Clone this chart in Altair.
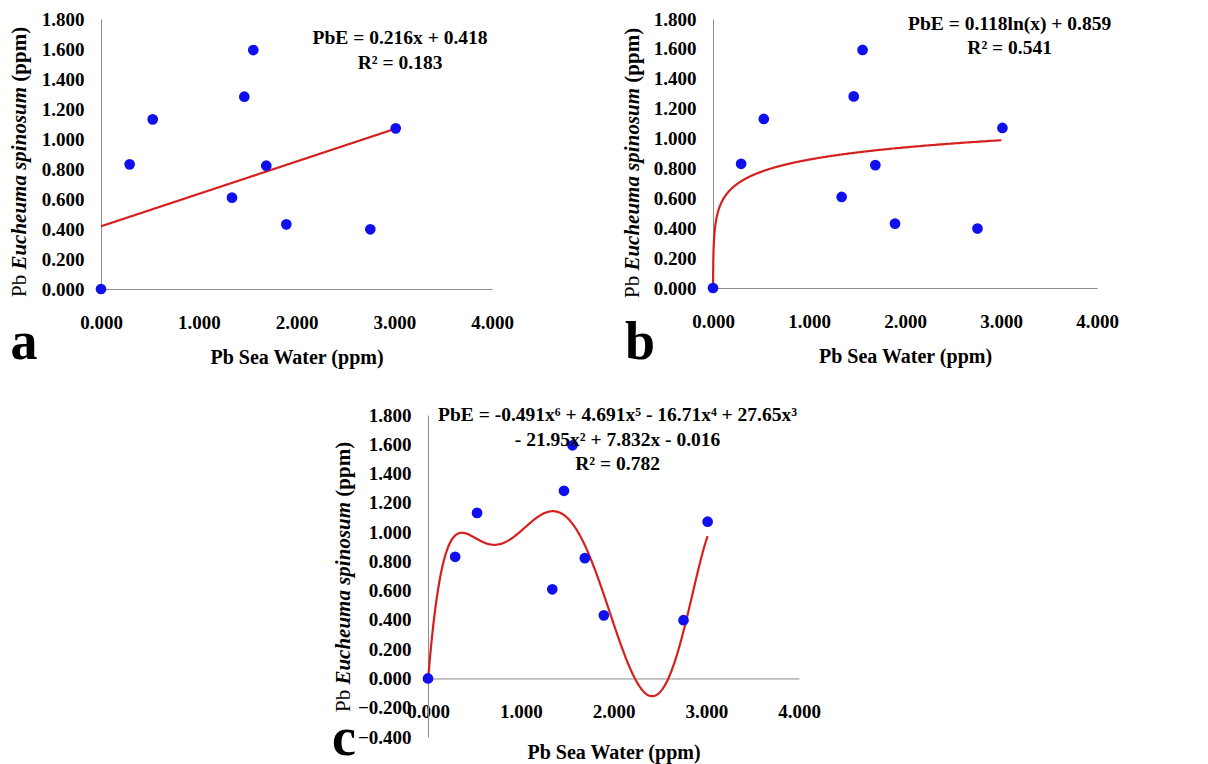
import altair as alt
import pandas as pd

# ---------------- data ----------------
sea_water = [0.000, 0.293, 0.529, 1.340, 1.466, 1.558, 1.691, 1.896, 2.755, 3.015]
eucheuma = [0.000, 0.831, 1.131, 0.609, 1.282, 1.593, 0.822, 0.431, 0.398, 1.071]

# trend-line coefficients as printed on the chart
linear_coef = [0.216, 0.418]                                   # a*x + b
log_coef = [0.118, 0.859]                                      # a*ln(x) + b
poly_coef = [-0.491, 4.691, -16.71, 27.65, -21.95, 7.832, -0.016]  # x^6 ... x^0

eq_a = ["PbE = 0.216x + 0.418", "R² = 0.183"]
eq_b = ["PbE = 0.118ln(x) + 0.859", "R² = 0.541"]
eq_c = ["PbE = -0.491x⁶ + 4.691x⁵ - 16.71x⁴ + 27.65x³",
        "- 21.95x² + 7.832x - 0.016", "R² = 0.782"]

x_ticks = [0, 1, 2, 3, 4]
y_ticks_ab = [0, 0.2, 0.4, 0.6, 0.8, 1.0, 1.2, 1.4, 1.6, 1.8]
y_ticks_c = [-0.4, -0.2, 0, 0.2, 0.4, 0.6, 0.8, 1.0, 1.2, 1.4, 1.6, 1.8]

x_title = "Pb Sea Water (ppm)"
y_title_parts = ["Pb ", "Eucheuma spinosum ", "(ppm)"]
panel_letters = ["a", "b", "c"]

# ---------------- styling ----------------
FONT = "Liberation Serif"
GRAY = "#8c8c8c"
RED = "#D62020"
BLUE = "#1010EE"

df = pd.DataFrame({"x": sea_water, "y": eucheuma})


def panel(width, height, ylo, yticks, trend, eq_text, eq_x, eq_y,
          letter, letter_x, title_x, title_start, x_offset=0, title_pad=15):
    xa = alt.Axis(values=x_ticks, format=".3f", title=x_title, ticks=False, grid=False,
                  domainColor=GRAY, domainWidth=1, labelFont=FONT, labelFontSize=19,
                  labelFontWeight="bold", labelColor="black", labelPadding=24,
                  titleFont=FONT, titleFontSize=20, titleFontWeight="bold",
                  titleColor="black", titlePadding=title_pad, labelFlush=False,
                  labelOverlap=False, offset=x_offset)
    ya = alt.Axis(values=yticks, format=".3f", title=None, ticks=False, grid=False,
                  domainColor=GRAY, domainWidth=1, labelFont=FONT, labelFontSize=19,
                  labelFontWeight="bold", labelColor="black", labelPadding=17,
                  labelFlush=False, labelOverlap=False)
    xs = alt.Scale(domain=[0, 4], nice=False, zero=False)
    ys = alt.Scale(domain=[ylo, 1.8], nice=False, zero=False)
    X = alt.X("x:Q", scale=xs, axis=xa)
    Y = alt.Y("y:Q", scale=ys, axis=ya)

    line = trend.mark_line(color=RED, strokeWidth=2.2, clip=False).encode(x=X, y=Y)
    pts = alt.Chart(df).mark_circle(size=115, color=BLUE, opacity=1).encode(x=X, y=Y)

    eq_df = pd.DataFrame({"x": [eq_x] * len(eq_text), "y": eq_y, "t": eq_text})
    eq = alt.Chart(eq_df).mark_text(font=FONT, fontSize=19.5, fontWeight="bold",
                                    align="center", baseline="middle",
                                    color="black").encode(x=X, y=Y, text="t:N")

    # y title made of three differently styled pieces (rotated)
    fs = 21
    widths = [1.306 * fs, 8.947 * fs, 2.611 * fs]
    styles = [("normal", "normal"), ("bold", "italic"), ("bold", "normal")]
    pieces = []
    pos = title_start
    for part, w, (wt, st) in zip(y_title_parts, widths, styles):
        pieces.append(
            alt.Chart(pd.DataFrame({"t": [part]})).mark_text(
                font=FONT, fontSize=fs, fontWeight=wt, fontStyle=st, angle=270,
                align="left", baseline="middle", color="black").encode(
                text="t:N", x=alt.value(title_x), y=alt.value(pos)))
        pos -= w

    let = alt.Chart(pd.DataFrame({"t": [letter]})).mark_text(
        font=FONT, fontSize=54, fontWeight="bold", align="center",
        baseline="alphabetic", color="black").encode(
        text="t:N", x=alt.value(letter_x), y=alt.value(340))

    return alt.layer(line, pts, eq, let, *pieces).properties(width=width, height=height)


# trend lines computed by Vega from the printed coefficients
lin_src = alt.Chart(alt.sequence(0, 3.016, 0.005, as_="x")).transform_calculate(
    y=f"{linear_coef[0]} * datum.x + {linear_coef[1]}")

log_src = alt.Chart(alt.sequence(-7.28, 1.104, 0.01, as_="t")).transform_calculate(
    x="exp(datum.t)", y=f"{log_coef[0]} * datum.t + {log_coef[1]}")

poly_expr = " + ".join(f"({c}) * pow(datum.x, {6 - i})" for i, c in enumerate(poly_coef))
poly_src = alt.Chart(alt.sequence(0, 3.016, 0.005, as_="x")).transform_calculate(y=poly_expr)

hc = 322
pa = panel(391, 270, 0, y_ticks_ab, lin_src, eq_a, 3.06, [1.671, 1.505],
           panel_letters[0], -77, -81.5, 278)
pb = panel(384, 269, 0, y_ticks_ab, log_src, eq_b, 3.09, [1.769, 1.605],
           panel_letters[1], -73, -80, 279)
pc = panel(371, hc, -0.4, y_ticks_c, poly_src, eq_c, 2.044, [1.799, 1.628, 1.464],
           panel_letters[2], -84, -84, 297, x_offset=-(hc - hc * 1.8 / 2.2), title_pad=21)

spacer = alt.Chart(pd.DataFrame({"v": [0]})).mark_rect(opacity=0).encode(
    x=alt.value(0), x2=alt.value(317), y=alt.value(0), y2=alt.value(10)
).properties(width=317, height=10)

top = alt.hconcat(pa, pb, spacing=221, bounds="flush")
bottom = alt.hconcat(spacer, pc, spacing=10, bounds="flush")

chart = alt.vconcat(top, bottom, spacing=35).properties(
    padding={"left": 0, "top": 2, "right": 0, "bottom": 0},
    background="white",
).configure_view(stroke=None)

chart.save("out.html", embed_options={"renderer": "svg", "actions": False})
